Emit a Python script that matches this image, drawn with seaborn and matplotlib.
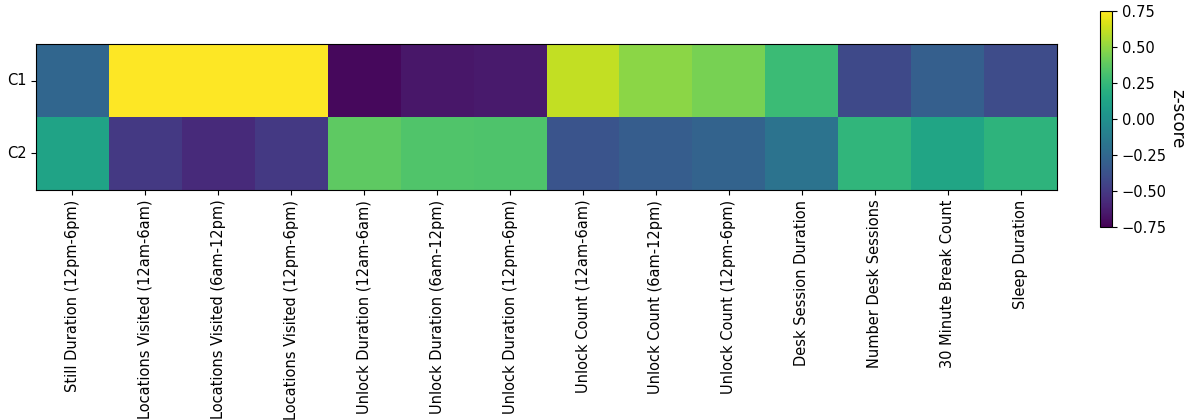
import numpy as np
import pandas as pd
import matplotlib
matplotlib.use("Agg")
import matplotlib.pyplot as plt
import seaborn as sns

# feature names and cluster z-scores
features = [
    "Still Duration (12pm-6pm)",
    "Locations Visited (12am-6am)",
    "Locations Visited (6am-12pm)",
    "Locations Visited (12pm-6pm)",
    "Unlock Duration (12am-6am)",
    "Unlock Duration (6am-12pm)",
    "Unlock Duration (12pm-6pm)",
    "Unlock Count (12am-6am)",
    "Unlock Count (6am-12pm)",
    "Unlock Count (12pm-6pm)",
    "Desk Session Duration",
    "Number Desk Sessions",
    "30 Minute Break Count",
    "Sleep Duration",
]
clusters = ["C1", "C2"]
c1_scores = [-0.26, 1.10, 1.05, 1.00, -0.72, -0.66, -0.65, 0.61, 0.49, 0.44, 0.27, -0.42, -0.30, -0.41]
c2_scores = [0.12, -0.50, -0.57, -0.50, 0.38, 0.335, 0.33, -0.36, -0.315, -0.28, -0.18, 0.23, 0.13, 0.22]

df = pd.DataFrame([c1_scores, c2_scores], index=clusters, columns=features)

W, H = 1186, 420
fig = plt.figure(figsize=(W / 100, H / 100), dpi=100)
ax = fig.add_axes([36 / W, 1 - 190 / H, 1021 / W, 146 / H])
cax = fig.add_axes([1100 / W, 1 - 227 / H, 12 / W, 216 / H])

sns.heatmap(df, ax=ax, cbar_ax=cax, cmap="viridis", vmin=-0.75, vmax=0.75,
            square=True, cbar_kws={"ticks": [-0.75, -0.5, -0.25, 0, 0.25, 0.5, 0.75]})

# bring back the frame like a plain imshow
for s in ax.spines.values():
    s.set_visible(True)
    s.set_linewidth(0.8)
ax.tick_params(axis="both", length=3.5, labelsize=10.5)
ax.set_xticklabels(features, rotation=90)
ax.set_yticklabels(clusters, rotation=0)

cb = ax.collections[0].colorbar
cb.outline.set_linewidth(0.8)
cb.ax.tick_params(labelsize=10.5, length=3.5)
cb.set_label("z-score", rotation=270, labelpad=14, fontsize=12)

fig.savefig("out.png", dpi=100)
